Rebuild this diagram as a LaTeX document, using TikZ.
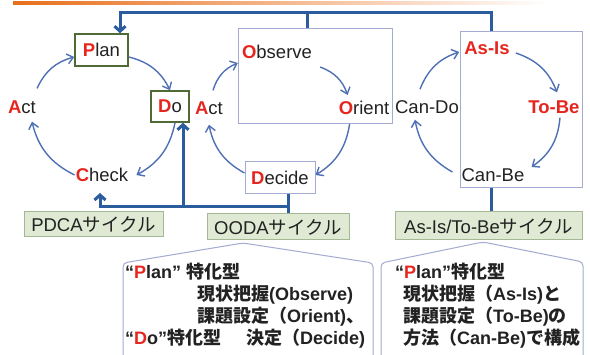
\documentclass[tikz,border=0pt]{standalone}
\usepackage{fontspec}
\setmainfont{Liberation Sans}
\newfontfamily\cjk{Noto Sans CJK JP}
\usetikzlibrary{arrows.meta,calc}
\definecolor{redL}{HTML}{E5261F}
\definecolor{bigblue}{HTML}{2B5C9E}
\definecolor{cycblue}{HTML}{5070B5}
\definecolor{gborder}{HTML}{4F6A35}
\definecolor{tagfill}{HTML}{DFE9D3}
\definecolor{tagdraw}{HTML}{A4B894}
\definecolor{lav}{HTML}{A3ABD2}
\definecolor{txt}{HTML}{222222}
\definecolor{orng}{HTML}{E86F1C}
\newcommand{\R}[1]{{\color{redL}\bfseries #1}}
\newcommand{\J}[1]{{\cjk #1}}
\begin{document}
\begin{tikzpicture}[x=1pt,y=1pt,
 every node/.style={text=txt, font=\fontsize{18.5}{22}\selectfont},
 lbl/.style={inner sep=1pt},
 gbox/.style={draw=gborder, line width=1.5pt, fill=white, inner sep=0pt},
 lbox/.style={draw=lav, line width=1pt, fill=white, inner sep=0pt},
 tag/.style={draw=tagdraw, line width=1pt, fill=tagfill, inner sep=0pt},
 cyc/.style={draw=cycblue, line width=1.4pt, -{Straight Barb[length=6pt,width=10pt]}, bend left=25},
 bigline/.style={draw=bigblue, line width=3pt},
 bigarr/.style={bigline, -{Straight Barb[length=5pt,width=11pt]}},
 callout/.style={draw=lav, line width=1pt, rounded corners=4pt, fill=white},
 cl/.style={inner sep=0pt, anchor=base west, font=\fontsize{18}{22}\selectfont\bfseries}]
\fill[white] (0,0) rectangle (590,-355);
\useasboundingbox (0,0) rectangle (590,-355);
\shade[left color=orng, right color=white] (13,-1.5) rectangle (550,-4.5);

% PDCA
\node[gbox, minimum width=53pt, minimum height=32pt] (plan) at (101.5,-50) {\R{P}lan};
\node[gbox, minimum width=38pt, minimum height=31pt] (do) at (170,-106.5) {\R{D}o};
\node[lbl] (actP) at (22,-107) {\R{A}ct};
\node[lbl] (check) at (102,-175) {\R{C}heck};
\node[tag, minimum width=139pt, minimum height=25pt] (pdca) at (93.5,-224.5) {PDCA\J{サイクル}};

% OODA
\node[lbox, minimum width=154pt, minimum height=95pt] (obsbox) at (315,-76.5) {};
\node[lbl] (observe) at (277,-52) {\R{O}bserve};
\node[lbl] (orient) at (364,-108) {\R{O}rient};
\node[lbl] (actO) at (209,-108) {\R{A}ct};
\node[lbox, minimum width=70pt, minimum height=32pt] (decide) at (280,-178) {\R{D}ecide};
\node[tag, minimum width=142pt, minimum height=26pt] (ooda) at (278,-227) {OODA\J{サイクル}};

% As-Is / To-Be
\node[lbox, minimum width=122pt, minimum height=156pt] (asbox) at (521,-110) {};
\node[lbl] (asis) at (487,-48) {\R{As-Is}};
\node[lbl] (tobe) at (554,-107) {\R{To-Be}};
\node[lbl] (cando) at (427,-107) {Can-Do};
\node[lbl] (canbe) at (493,-175) {Can-Be};
\node[tag, minimum width=187pt, minimum height=28pt] (astag) at (488.5,-226) {As-Is/To-Be\J{サイクル}};

% cycle arrows
\draw[cyc] ([yshift=11pt]actP.north east) to ([yshift=-7pt]plan.west);
\draw[cyc] ([yshift=-7pt]plan.east) to (do.north);
\draw[cyc] ([xshift=5pt]do.south) to ([xshift=7pt]check.east);
\draw[cyc] (check.west) to ([xshift=10pt,yshift=-7pt]actP.south);

\draw[cyc] ([xshift=4pt,yshift=10pt]actO.north) to ([xshift=-3pt,yshift=-11pt]observe.west);
\draw[cyc] ([xshift=7pt,yshift=-7pt]observe.south east) to ([xshift=10pt,yshift=5pt]orient.north west);
\draw[cyc] ([xshift=12pt,yshift=-8pt]orient.south west) to ([yshift=3pt]decide.east);
\draw[cyc] ([yshift=5pt]decide.west) to ([yshift=-9pt]actO.south);

\draw[cyc] ([xshift=-7pt,yshift=10pt]cando.north) to ([xshift=-4pt,yshift=-4pt]asis.west);
\draw[cyc] ([xshift=5pt,yshift=-5pt]asis.east) to ([xshift=3pt,yshift=7pt]tobe.north);
\draw[cyc] ([xshift=6pt,yshift=-3pt]tobe.south) to ([xshift=6pt,yshift=8pt]canbe.east);
\draw[cyc] ([xshift=-8pt,yshift=3pt]canbe.west) to ([xshift=-12pt,yshift=-5pt]cando.south);

% thick blue connectors
\coordinate (top) at (0,-13);
\coordinate (bot) at (0,-207);
\draw[bigarr] ([xshift=-30pt]asbox.north) |- ([xshift=18.5pt]plan.north |- top) -- ([xshift=18.5pt]plan.north);
\draw[bigline] ([xshift=-8pt]obsbox.north) -- ([xshift=-8pt]obsbox.north |- top);
\draw[bigline] ([xshift=-30pt]asbox.south) -- ([xshift=-30pt]asbox.south |- astag.north);
\draw[bigline] ([xshift=8pt]decide.south) -- ([xshift=8pt]decide.south |- ooda.north);
\draw[bigarr] ([xshift=8pt]decide.south |- bot) -| ([xshift=-2pt,yshift=-10pt]check.south);
\draw[bigarr] ([xshift=13pt]do.south |- bot) -- ([xshift=13pt]do.south);

% callouts
\draw[callout] (123,-362) -- (123,-263) -- (243,-243) -- (373,-263) -- (373,-362);
\draw[callout] (381,-362) -- (381,-263) -- (483,-242) -- (583,-262) -- (583,-362);

\node[cl] (c1a) at (125,-279) {“\R{P}lan” \J{特化型}};
\node[cl] (c1b) at (197,-300.5) {\J{現状把握}(Observe)};
\node[cl] (c1c) at (197,-322.5) {\J{課題設定（}Orient)\J{、}};
\node[cl] (c1d) at (125,-345) {“\R{D}o”\J{特化型}\hspace{25pt}\J{決定（}Decide)};

\node[cl] (c2a) at (395,-279) {“\R{P}lan”\J{特化型}};
\node[cl] (c2b) at (403,-300.5) {\J{現状把握（}As-Is)\J{と}};
\node[cl] (c2c) at (403,-322.5) {\J{課題設定（}To-Be)\J{の}};
\node[cl] (c2d) at (403,-345) {\J{方法（}Can-Be)\J{で構成}};
\end{tikzpicture}
\end{document}
